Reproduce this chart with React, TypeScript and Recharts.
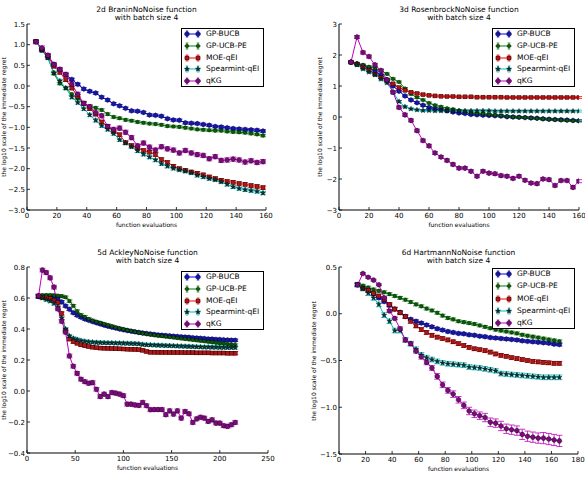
import React from "react";
import { ComposedChart, Line, XAxis, YAxis, ErrorBar } from "recharts";

// evaluation counts per benchmark
const BRANIN_X = [6, 10, 14, 18, 22, 26, 30, 34, 38, 42, 46, 50, 54, 58, 62, 66, 70, 74, 78, 82, 86, 90, 94, 98, 102, 106, 110, 114, 118, 122, 126, 130, 134, 138, 142, 146, 150, 154, 158];
const ROSEN_X = [8, 12, 16, 20, 24, 28, 32, 36, 40, 44, 48, 52, 56, 60, 64, 68, 72, 76, 80, 84, 88, 92, 96, 100, 104, 108, 112, 116, 120, 124, 128, 132, 136, 140, 144, 148, 152, 156, 160];
const ACKLEY_X = [12, 16, 20, 24, 28, 32, 36, 40, 44, 48, 52, 56, 60, 64, 68, 72, 76, 80, 84, 88, 92, 96, 100, 104, 108, 112, 116, 120, 124, 128, 132, 136, 140, 144, 148, 152, 156, 160, 164, 168, 172, 176, 180, 184, 188, 192, 196, 200, 204, 208, 212, 216];
const HART_X = [14, 18, 22, 26, 30, 34, 38, 42, 46, 50, 54, 58, 62, 66, 70, 74, 78, 82, 86, 90, 94, 98, 102, 106, 110, 114, 118, 122, 126, 130, 134, 138, 142, 146, 150, 154, 158, 162, 166];

// 2d Branin
const BRANIN_BUCB = [1.07, 0.88, 0.74, 0.52, 0.40, 0.27, 0.16, 0.04, -0.07, -0.13, -0.17, -0.27, -0.34, -0.43, -0.48, -0.54, -0.60, -0.61, -0.64, -0.70, -0.71, -0.73, -0.79, -0.82, -0.83, -0.89, -0.90, -0.91, -0.93, -0.95, -0.98, -0.99, -1.01, -1.03, -1.04, -1.05, -1.06, -1.07, -1.09];
const BRANIN_UCBPE = [1.07, 0.86, 0.68, 0.30, 0.06, -0.05, -0.20, -0.30, -0.42, -0.50, -0.53, -0.58, -0.68, -0.75, -0.78, -0.82, -0.84, -0.87, -0.89, -0.91, -0.92, -0.94, -0.97, -0.98, -0.99, -1.01, -1.03, -1.05, -1.06, -1.07, -1.08, -1.08, -1.10, -1.11, -1.12, -1.13, -1.15, -1.17, -1.20];
const BRANIN_MOE = [1.07, 0.88, 0.72, 0.48, 0.33, 0.15, -0.05, -0.25, -0.42, -0.55, -0.68, -0.87, -0.98, -1.10, -1.18, -1.37, -1.44, -1.50, -1.56, -1.60, -1.66, -1.78, -1.85, -1.94, -2.00, -2.04, -2.08, -2.11, -2.15, -2.20, -2.24, -2.28, -2.31, -2.33, -2.36, -2.38, -2.41, -2.43, -2.46];
const BRANIN_SPEAR = [1.07, 0.86, 0.68, 0.32, 0.12, -0.05, -0.27, -0.40, -0.55, -0.70, -0.83, -0.96, -1.05, -1.15, -1.30, -1.38, -1.47, -1.57, -1.65, -1.72, -1.79, -1.88, -1.94, -1.99, -2.03, -2.06, -2.10, -2.16, -2.20, -2.24, -2.27, -2.32, -2.38, -2.44, -2.48, -2.51, -2.53, -2.55, -2.59];
const BRANIN_KG = [1.07, 0.92, 0.74, 0.52, 0.40, 0.28, 0.05, -0.20, -0.42, -0.50, -0.65, -0.72, -0.98, -1.05, -1.02, -1.12, -1.25, -1.45, -1.38, -1.48, -1.55, -1.47, -1.52, -1.55, -1.62, -1.56, -1.62, -1.66, -1.68, -1.76, -1.71, -1.80, -1.79, -1.77, -1.79, -1.84, -1.81, -1.85, -1.83];

// 3d Rosenbrock
const ROSEN_BUCB = [1.77, 1.72, 1.65, 1.58, 1.48, 1.35, 1.20, 1.00, 0.83, 0.68, 0.55, 0.46, 0.38, 0.31, 0.27, 0.24, 0.20, 0.16, 0.13, 0.11, 0.08, 0.07, 0.06, 0.05, 0.04, 0.03, 0.01, 0.00, -0.01, -0.02, -0.03, -0.04, -0.06, -0.07, -0.08, -0.09, -0.10, -0.11, -0.12];
const ROSEN_UCBPE = [1.77, 1.73, 1.68, 1.62, 1.57, 1.50, 1.39, 1.23, 1.13, 0.92, 0.74, 0.63, 0.55, 0.45, 0.38, 0.33, 0.28, 0.25, 0.21, 0.18, 0.15, 0.12, 0.10, 0.08, 0.06, 0.04, 0.02, 0.00, -0.01, -0.02, -0.03, -0.05, -0.06, -0.08, -0.09, -0.10, -0.11, -0.12, -0.13];
const ROSEN_MOE = [1.77, 1.70, 1.60, 1.50, 1.38, 1.27, 1.17, 1.07, 0.95, 0.86, 0.80, 0.76, 0.72, 0.70, 0.68, 0.67, 0.66, 0.66, 0.65, 0.65, 0.65, 0.64, 0.64, 0.64, 0.64, 0.64, 0.63, 0.63, 0.63, 0.63, 0.63, 0.63, 0.63, 0.63, 0.63, 0.63, 0.63, 0.63, 0.63];
const ROSEN_SPEAR = [1.77, 1.68, 1.55, 1.45, 1.36, 1.22, 1.10, 0.80, 0.50, 0.33, 0.26, 0.23, 0.21, 0.21, 0.20, 0.20, 0.20, 0.20, 0.20, 0.20, 0.20, 0.20, 0.20, 0.20, 0.19, 0.19, 0.19, 0.19, 0.19, 0.19, 0.19, 0.19, 0.19, 0.19, 0.19, 0.19, 0.19, 0.19, 0.19];
const ROSEN_KG = [1.77, 2.58, 2.08, 1.95, 1.68, 1.50, 1.20, 0.80, 0.31, 0.07, -0.11, -0.44, -0.76, -0.93, -1.16, -1.29, -1.40, -1.53, -1.65, -1.65, -1.75, -1.91, -1.75, -1.81, -1.83, -1.89, -1.91, -1.98, -1.91, -2.04, -2.13, -2.15, -2.00, -2.02, -2.21, -2.05, -2.05, -2.27, -2.07];

// 5d Ackley
const ACKLEY_BUCB = [0.61, 0.612, 0.612, 0.61, 0.605, 0.595, 0.575, 0.548, 0.527, 0.505, 0.488, 0.476, 0.465, 0.456, 0.448, 0.44, 0.433, 0.425, 0.418, 0.412, 0.406, 0.40, 0.395, 0.39, 0.386, 0.382, 0.378, 0.374, 0.371, 0.368, 0.365, 0.362, 0.36, 0.358, 0.356, 0.354, 0.352, 0.35, 0.348, 0.346, 0.344, 0.342, 0.34, 0.338, 0.336, 0.335, 0.333, 0.332, 0.33, 0.329, 0.328, 0.327];
const ACKLEY_UCBPE = [0.615, 0.617, 0.618, 0.618, 0.617, 0.615, 0.612, 0.605, 0.58, 0.55, 0.515, 0.49, 0.478, 0.465, 0.455, 0.447, 0.44, 0.432, 0.425, 0.418, 0.41, 0.404, 0.398, 0.392, 0.387, 0.382, 0.377, 0.372, 0.368, 0.364, 0.36, 0.357, 0.354, 0.351, 0.348, 0.345, 0.342, 0.339, 0.336, 0.333, 0.33, 0.327, 0.324, 0.321, 0.318, 0.315, 0.312, 0.309, 0.306, 0.302, 0.299, 0.296];
const ACKLEY_MOE = [0.61, 0.605, 0.60, 0.595, 0.585, 0.57, 0.50, 0.39, 0.335, 0.318, 0.308, 0.298, 0.292, 0.287, 0.283, 0.279, 0.277, 0.276, 0.275, 0.274, 0.273, 0.272, 0.271, 0.27, 0.269, 0.268, 0.267, 0.263, 0.255, 0.25, 0.25, 0.249, 0.249, 0.249, 0.248, 0.248, 0.248, 0.248, 0.247, 0.247, 0.247, 0.246, 0.246, 0.246, 0.246, 0.245, 0.245, 0.245, 0.245, 0.244, 0.244, 0.244];
const ACKLEY_SPEAR = [0.61, 0.60, 0.59, 0.58, 0.565, 0.54, 0.47, 0.40, 0.355, 0.34, 0.332, 0.325, 0.32, 0.317, 0.315, 0.313, 0.312, 0.311, 0.31, 0.31, 0.309, 0.309, 0.308, 0.307, 0.306, 0.305, 0.304, 0.30, 0.298, 0.297, 0.296, 0.295, 0.294, 0.293, 0.292, 0.291, 0.29, 0.289, 0.288, 0.287, 0.286, 0.285, 0.284, 0.283, 0.283, 0.282, 0.282, 0.281, 0.281, 0.28, 0.28, 0.28];
const ACKLEY_KG = [0.614, 0.78, 0.764, 0.73, 0.67, 0.53, 0.45, 0.38, 0.226, 0.16, 0.114, 0.076, 0.06, 0.05, 0.054, 0.011, -0.036, -0.02, -0.036, -0.01, -0.014, -0.02, -0.03, -0.085, -0.085, -0.09, -0.093, -0.074, -0.095, -0.121, -0.12, -0.12, -0.12, -0.153, -0.128, -0.149, -0.128, -0.175, -0.132, -0.147, -0.203, -0.18, -0.169, -0.175, -0.196, -0.186, -0.207, -0.207, -0.224, -0.228, -0.218, -0.203];

// 6d Hartmann
const HART_BUCB = [0.31, 0.28, 0.25, 0.21, 0.17, 0.13, 0.09, 0.05, 0.015, -0.03, -0.06, -0.08, -0.10, -0.12, -0.14, -0.16, -0.175, -0.19, -0.20, -0.21, -0.215, -0.225, -0.23, -0.24, -0.245, -0.255, -0.26, -0.265, -0.27, -0.275, -0.28, -0.29, -0.295, -0.30, -0.305, -0.31, -0.315, -0.325, -0.33];
const HART_UCBPE = [0.31, 0.30, 0.28, 0.26, 0.245, 0.23, 0.21, 0.19, 0.17, 0.15, 0.125, 0.10, 0.08, 0.055, 0.035, 0.01, -0.02, -0.045, -0.06, -0.08, -0.09, -0.10, -0.11, -0.125, -0.14, -0.155, -0.17, -0.18, -0.19, -0.20, -0.21, -0.225, -0.235, -0.245, -0.255, -0.265, -0.275, -0.285, -0.295];
const HART_MOE = [0.31, 0.27, 0.25, 0.22, 0.19, 0.15, 0.10, 0.05, 0.01, -0.03, -0.08, -0.13, -0.17, -0.20, -0.23, -0.25, -0.265, -0.28, -0.30, -0.32, -0.34, -0.36, -0.375, -0.385, -0.395, -0.41, -0.43, -0.445, -0.455, -0.47, -0.48, -0.49, -0.50, -0.51, -0.515, -0.52, -0.525, -0.53, -0.53];
const HART_SPEAR = [0.31, 0.27, 0.22, 0.17, 0.10, -0.015, -0.08, -0.18, -0.18, -0.28, -0.32, -0.38, -0.44, -0.47, -0.49, -0.51, -0.525, -0.535, -0.54, -0.545, -0.55, -0.57, -0.575, -0.58, -0.59, -0.60, -0.61, -0.64, -0.645, -0.65, -0.655, -0.66, -0.665, -0.67, -0.675, -0.68, -0.68, -0.68, -0.68];
const HART_KG = [0.31, 0.43, 0.39, 0.36, 0.31, 0.17, 0.03, -0.05, -0.16, -0.28, -0.32, -0.40, -0.46, -0.52, -0.58, -0.67, -0.76, -0.82, -0.86, -0.92, -0.98, -1.04, -1.07, -1.09, -1.11, -1.16, -1.17, -1.20, -1.23, -1.24, -1.25, -1.29, -1.31, -1.32, -1.33, -1.33, -1.34, -1.35, -1.36];
const HART_KG_ERR = [0.01, 0.01, 0.01, 0.01, 0.01, 0.015, 0.015, 0.015, 0.02, 0.02, 0.02, 0.02, 0.025, 0.025, 0.025, 0.03, 0.03, 0.03, 0.035, 0.035, 0.035, 0.04, 0.04, 0.04, 0.045, 0.045, 0.045, 0.05, 0.05, 0.05, 0.05, 0.055, 0.055, 0.055, 0.055, 0.06, 0.06, 0.06, 0.06];

// half-widths of the error bars (one value per series, or one per point)
const BRANIN_ERR = [0.03, 0.03, 0.04, 0.04, 0.05];
const ROSEN_ERR = [0.03, 0.03, 0.03, 0.03, 0.05];
const ACKLEY_ERR = [0.008, 0.008, 0.01, 0.01, 0.012];
const HART_ERR: (number | number[])[] = [0.015, 0.015, 0.02, 0.025, HART_KG_ERR];

const TICKS_0_160 = [0, 20, 40, 60, 80, 100, 120, 140, 160];
const TICKS_0_250 = [0, 50, 100, 150, 200, 250];
const TICKS_0_180 = [0, 20, 40, 60, 80, 100, 120, 140, 160, 180];
const BRANIN_Y = [-3, -2.5, -2, -1.5, -1, -0.5, 0, 0.5, 1, 1.5];
const ROSEN_Y = [-3, -2, -1, 0, 1, 2, 3];
const ACKLEY_Y = [-0.4, -0.2, 0, 0.2, 0.4, 0.6, 0.8];
const HART_Y = [-1.5, -1, -0.5, 0, 0.5];

type Shape = "hex" | "dot" | "square" | "star" | "oct";

const SERIES: { key: string; name: string; line: string; fill: string; shape: Shape }[] = [
  { key: "bucb", name: "GP-BUCB", line: "#0000ff", fill: "#1616a8", shape: "hex" },
  { key: "ucbpe", name: "GP-UCB-PE", line: "#008000", fill: "#0c5a0c", shape: "dot" },
  { key: "moe", name: "MOE-qEI", line: "#ff0000", fill: "#b01414", shape: "square" },
  { key: "spear", name: "Spearmint-qEI", line: "#00bfbf", fill: "#0c3232", shape: "star" },
  { key: "kg", name: "qKG", line: "#bf00bf", fill: "#7a0c7a", shape: "oct" },
];

const minus = (s: string) => s.replace("-", "\u2212");
const fmt1 = (v: number) => minus((Math.abs(v) < 1e-9 ? 0 : v).toFixed(1));
const fmt0 = (v: number) => minus(String(v));

const FONT = "'DejaVu Sans', sans-serif";

const PANELS = [
  {
    title: "2d BraninNoNoise function",
    x: BRANIN_X,
    values: [BRANIN_BUCB, BRANIN_UCBPE, BRANIN_MOE, BRANIN_SPEAR, BRANIN_KG],
    errs: BRANIN_ERR as (number | number[])[],
    xDomain: [0, 160], xTicks: TICKS_0_160,
    yDomain: [-3, 1.5], yTicks: BRANIN_Y, yFmt: fmt1,
    plot: { left: 27, top: 24, width: 239, height: 186 },
    ylabelX: 4,
    legend: { left: 181, top: 28, height: 59 },
  },
  {
    title: "3d RosenbrockNoNoise function",
    x: ROSEN_X,
    values: [ROSEN_BUCB, ROSEN_UCBPE, ROSEN_MOE, ROSEN_SPEAR, ROSEN_KG],
    errs: ROSEN_ERR as (number | number[])[],
    xDomain: [0, 160], xTicks: TICKS_0_160,
    yDomain: [-3, 3], yTicks: ROSEN_Y, yFmt: fmt0,
    plot: { left: 339, top: 24, width: 240, height: 186 },
    ylabelX: 320,
    legend: { left: 492, top: 28, height: 59 },
  },
  {
    title: "5d AckleyNoNoise function",
    x: ACKLEY_X,
    values: [ACKLEY_BUCB, ACKLEY_UCBPE, ACKLEY_MOE, ACKLEY_SPEAR, ACKLEY_KG],
    errs: ACKLEY_ERR as (number | number[])[],
    xDomain: [0, 250], xTicks: TICKS_0_250,
    yDomain: [-0.4, 0.8], yTicks: ACKLEY_Y, yFmt: fmt1,
    plot: { left: 27, top: 267, width: 241, height: 186 },
    ylabelX: 4,
    legend: { left: 181, top: 271, height: 59 },
  },
  {
    title: "6d HartmannNoNoise function",
    x: HART_X,
    values: [HART_BUCB, HART_UCBPE, HART_MOE, HART_SPEAR, HART_KG],
    errs: HART_ERR,
    xDomain: [0, 180], xTicks: TICKS_0_180,
    yDomain: [-1.5, 0.5], yTicks: HART_Y, yFmt: fmt1,
    plot: { left: 339, top: 267, width: 239, height: 187 },
    ylabelX: 314,
    legend: { left: 492, top: 268, height: 61 },
  },
];

function poly(cx: number, cy: number, n: number, r: number, rot: number) {
  const pts: string[] = [];
  for (let i = 0; i < n; i++) {
    const a = rot + (i * 2 * Math.PI) / n;
    pts.push(`${cx + r * Math.cos(a)},${cy + r * Math.sin(a)}`);
  }
  return pts.join(" ");
}

function starPts(cx: number, cy: number, r: number) {
  const pts: string[] = [];
  for (let i = 0; i < 10; i++) {
    const a = -Math.PI / 2 + (i * Math.PI) / 5;
    const rr = i % 2 === 0 ? r : r * 0.42;
    pts.push(`${cx + rr * Math.cos(a)},${cy + rr * Math.sin(a)}`);
  }
  return pts.join(" ");
}

function Marker({ shape, cx, cy, fill }: { shape: Shape; cx: number; cy: number; fill: string }) {
  const edge = { stroke: "#000", strokeWidth: 0.4 };
  switch (shape) {
    case "hex":
      return <polygon points={poly(cx, cy, 6, 2.5, -Math.PI / 2)} fill={fill} {...edge} />;
    case "dot":
      return <circle cx={cx} cy={cy} r={1.8} fill={fill} {...edge} />;
    case "square":
      return <rect x={cx - 2} y={cy - 2} width={4} height={4} fill={fill} {...edge} />;
    case "star":
      return <polygon points={starPts(cx, cy, 2.7)} fill={fill} {...edge} />;
    default:
      return <polygon points={poly(cx, cy, 8, 2.5, Math.PI / 8)} fill={fill} {...edge} />;
  }
}

const TICK = 3;

function Panel({ p }: { p: (typeof PANELS)[number] }) {
  const L = 30, R = 10, T = 8, B = 24;
  const { plot } = p;
  const data = p.x.map((x, i) => {
    const row: Record<string, number> = { x };
    SERIES.forEach((s, k) => {
      row[s.key] = p.values[k][i];
      const e = p.errs[k];
      row[s.key + "Err"] = Array.isArray(e) ? e[i] : e;
    });
    return row;
  });

  const bottomTick = (props: any) => {
    const { x, y, payload } = props;
    return (
      <g>
        <line x1={x} x2={x} y1={y} y2={y - TICK} stroke="#000" strokeWidth={0.8} />
        <text x={x} y={y + 8.2} textAnchor="middle" fontSize={7} fontFamily={FONT} fill="#000">
          {fmt0(payload.value)}
        </text>
      </g>
    );
  };
  const topTick = (props: any) => {
    const { x, y } = props;
    return <line x1={x} x2={x} y1={y} y2={y + TICK} stroke="#000" strokeWidth={0.8} />;
  };
  const leftTick = (props: any) => {
    const { x, y, payload } = props;
    return (
      <g>
        <line x1={x} x2={x + TICK} y1={y} y2={y} stroke="#000" strokeWidth={0.8} />
        <text x={x - 2} y={y + 2.5} textAnchor="end" fontSize={7} fontFamily={FONT} fill="#000">
          {p.yFmt(payload.value)}
        </text>
      </g>
    );
  };
  const rightTick = (props: any) => {
    const { x, y } = props;
    return <line x1={x} x2={x - TICK} y1={y} y2={y} stroke="#000" strokeWidth={0.8} />;
  };

  const cx = plot.left + plot.width / 2;
  const cy = plot.top + plot.height / 2;

  return (
    <>
      <div style={{ position: "absolute", left: 0, top: plot.top - 18.5, width: 0, height: 0 }}>
        <div
          style={{
            position: "absolute", left: cx - 100, width: 200, textAlign: "center",
            fontSize: 7.5, lineHeight: "8.3px", fontFamily: FONT, color: "#000", whiteSpace: "nowrap",
          }}
        >
          {p.title}
          <br />
          with batch size 4
        </div>
      </div>
      <div
        style={{
          position: "absolute", left: cx - 60, top: plot.top + plot.height + 11, width: 120,
          textAlign: "center", fontSize: 6, lineHeight: "8px", fontFamily: FONT, color: "#000",
        }}
      >
        function evaluations
      </div>
      <div
        style={{
          position: "absolute", left: p.ylabelX - 80, top: cy - 4, width: 160, height: 8,
          textAlign: "center", fontSize: 6, lineHeight: "8px", fontFamily: FONT, color: "#000",
          transform: "rotate(-90deg)", whiteSpace: "nowrap",
        }}
      >
        the log10 scale of the immediate regret
      </div>
      <div style={{ position: "absolute", left: plot.left - L, top: plot.top - T }}>
        <ComposedChart
          width={plot.width + L + R}
          height={plot.height + T + B}
          data={data}
          margin={{ top: T, right: R, bottom: 0, left: 0 }}
        >
          <XAxis
            dataKey="x" type="number" domain={p.xDomain} ticks={p.xTicks} interval={0}
            height={B} tickSize={0} tickMargin={0} tickLine={false} allowDataOverflow
            axisLine={{ stroke: "#000", strokeWidth: 1 }} tick={bottomTick}
          />
          <XAxis
            xAxisId="top" orientation="top" dataKey="x" type="number" domain={p.xDomain}
            ticks={p.xTicks} interval={0} height={0} tickSize={0} tickMargin={0} tickLine={false}
            allowDataOverflow axisLine={{ stroke: "#000", strokeWidth: 1 }} tick={topTick}
          />
          <YAxis
            type="number" domain={p.yDomain} ticks={p.yTicks} interval={0} width={L}
            tickSize={0} tickMargin={0} tickLine={false} allowDataOverflow
            axisLine={{ stroke: "#000", strokeWidth: 1 }} tick={leftTick}
          />
          <YAxis
            yAxisId="right" orientation="right" type="number" domain={p.yDomain} ticks={p.yTicks}
            interval={0} width={0} tickSize={0} tickMargin={0} tickLine={false} allowDataOverflow
            axisLine={{ stroke: "#000", strokeWidth: 1 }} tick={rightTick}
          />
          {SERIES.map((s) => (
            <Line
              key={s.key}
              dataKey={s.key}
              type="linear"
              stroke={s.line}
              strokeWidth={1}
              isAnimationActive={false}
              activeDot={false}
              dot={(d: any) => (
                <Marker key={`${s.key}-${d.index}`} shape={s.shape} cx={d.cx} cy={d.cy} fill={s.fill} />
              )}
            >
              <ErrorBar dataKey={s.key + "Err"} width={3} stroke={s.line} strokeWidth={0.8} direction="y" />
            </Line>
          ))}
        </ComposedChart>
      </div>
      <Legend box={p.legend} />
    </>
  );
}

function Legend({ box }: { box: { left: number; top: number; height: number } }) {
  const step = (box.height - 12.6) / 4;
  return (
    <div
      style={{
        position: "absolute", left: box.left, top: box.top, width: 83, height: box.height,
        boxSizing: "border-box", border: "1px solid #000", background: "#fff",
      }}
    >
      {SERIES.map((s, i) => {
        const y = 5.3 + i * step;
        return (
          <React.Fragment key={s.key}>
            <svg style={{ position: "absolute", left: 2, top: y - 5 }} width={17} height={10}>
              <line x1={0.5} x2={16.5} y1={5} y2={5} stroke={s.line} strokeWidth={1} />
              {[3, 14].map((mx) => (
                <g key={mx}>
                  <line x1={mx} x2={mx} y1={2} y2={8} stroke={s.line} strokeWidth={0.8} />
                  <line x1={mx - 1.3} x2={mx + 1.3} y1={2} y2={2} stroke={s.line} strokeWidth={0.8} />
                  <line x1={mx - 1.3} x2={mx + 1.3} y1={8} y2={8} stroke={s.line} strokeWidth={0.8} />
                  <Marker shape={s.shape} cx={mx} cy={5} fill={s.fill} />
                </g>
              ))}
            </svg>
            <div
              style={{
                position: "absolute", left: 24, top: y - 5, height: 10, lineHeight: "10px",
                fontSize: 7.5, fontFamily: FONT, color: "#000", whiteSpace: "nowrap",
              }}
            >
              {s.name}
            </div>
          </React.Fragment>
        );
      })}
    </div>
  );
}

export default function App() {
  return (
    <div
      style={{
        position: "absolute", left: 0, top: 0, width: 585, height: 481,
        background: "#fff", overflow: "hidden",
      }}
    >
      {PANELS.map((p) => (
        <Panel key={p.title} p={p} />
      ))}
    </div>
  );
}
